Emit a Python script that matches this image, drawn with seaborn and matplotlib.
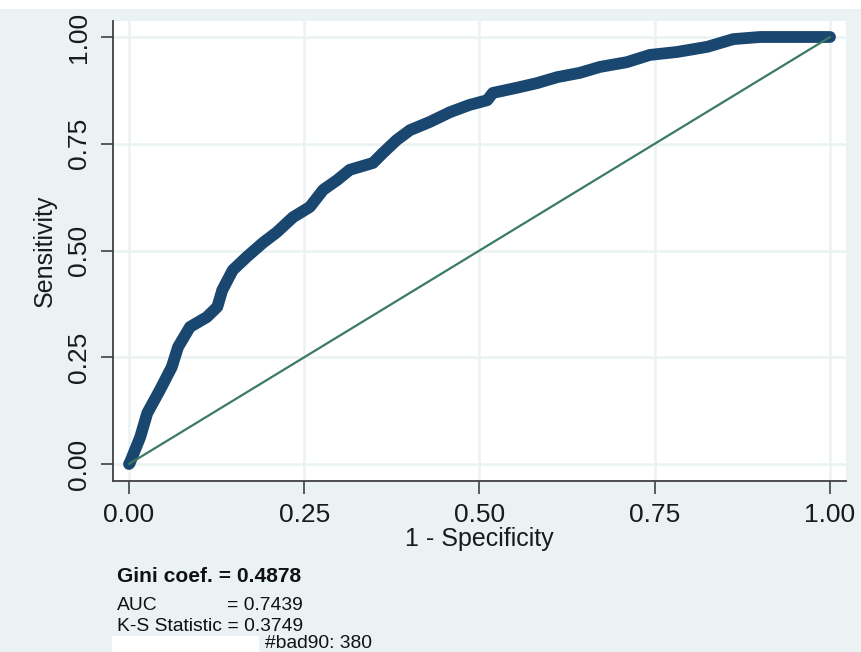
import matplotlib
matplotlib.use("Agg")
import matplotlib.pyplot as plt
from matplotlib.patches import Rectangle
import seaborn as sns
import pandas as pd

# ROC curve values
fpr = [0, 0.001, 0.016, 0.026, 0.044, 0.061, 0.070, 0.087, 0.111, 0.126, 0.133,
       0.148, 0.168, 0.191, 0.211, 0.234, 0.258, 0.277, 0.297, 0.315, 0.348,
       0.362, 0.382, 0.401, 0.429, 0.458, 0.486, 0.511, 0.519, 0.553, 0.582,
       0.611, 0.643, 0.672, 0.710, 0.743, 0.782, 0.825, 0.862, 0.900, 0.947, 1.0]
tpr = [0, 0.002, 0.063, 0.119, 0.173, 0.227, 0.274, 0.321, 0.344, 0.368, 0.407,
       0.454, 0.485, 0.518, 0.543, 0.578, 0.602, 0.642, 0.665, 0.689, 0.705,
       0.728, 0.759, 0.782, 0.801, 0.824, 0.841, 0.852, 0.869, 0.881, 0.892,
       0.906, 0.916, 0.930, 0.941, 0.958, 0.965, 0.977, 0.995, 1.0, 1.0, 1.0]
ref_x = [0.0, 1.0]
ref_y = [0.0, 1.0]
ticks = [0.0, 0.25, 0.5, 0.75, 1.0]
tick_labels = ["0.00", "0.25", "0.50", "0.75", "1.00"]

gini_text = "Gini coef. = 0.4878"
auc_label, auc_value = "AUC", "= 0.7439"
ks_text = "K-S Statistic = 0.3749"
bad_text = "#bad90: 380"

BG = "#EAF2F3"
NAVY = "#1A476F"
GREEN = "#3B7A63"

sns.set_theme(style="white")
plt.rcParams["font.family"] = ["Liberation Sans", "DejaVu Sans"]

fig = plt.figure(figsize=(8.62, 6.52), dpi=100, facecolor=BG)
W, H = 862, 652
ax = fig.add_axes([113 / W, 1 - 481 / H, (846 - 113) / W, (481 - 21) / H])
ax.set_facecolor("white")

fig.patches.append(Rectangle((0, 1 - 9 / H), 1, 9 / H, transform=fig.transFigure,
                             facecolor="white", edgecolor="none", zorder=-1))

roc = pd.DataFrame({"fpr": fpr, "tpr": tpr})
diag = pd.DataFrame({"x": ref_x, "y": ref_y})

sns.lineplot(data=roc, x="fpr", y="tpr", sort=False, estimator=None, ax=ax,
             color=NAVY, linewidth=8.5, solid_capstyle="round",
             solid_joinstyle="round", zorder=3)
sns.lineplot(data=diag, x="x", y="y", sort=False, estimator=None, ax=ax,
             color=GREEN, linewidth=1.6, zorder=4)

x0, x1 = (113 - 129) / 701, (846 - 129) / 701
y0, y1 = (464 - 481) / 427, (464 - 21) / 427
ax.set_xlim(x0, x1)
ax.set_ylim(y0, y1)

ax.set_xticks(ticks)
ax.set_xticklabels(tick_labels)
ax.set_yticks(ticks)
ax.set_yticklabels(tick_labels, rotation=90, va="center")

ax.grid(True, color=BG, linewidth=1.8)
ax.set_axisbelow(True)

for s in ["top", "right"]:
    ax.spines[s].set_visible(False)
for s in ["left", "bottom"]:
    ax.spines[s].set_color("#404040")
    ax.spines[s].set_linewidth(1.3)

ax.tick_params(axis="both", which="major", direction="out", length=9, width=1.2,
               color="#404040", labelsize=19, labelcolor="#1a1a1a",
               left=True, bottom=True)
ax.tick_params(axis="x", pad=7)
ax.tick_params(axis="y", pad=7)

ax.set_xlabel("1 - Specificity", fontsize=18, color="#1a1a1a", labelpad=0)
ax.set_ylabel("Sensitivity", fontsize=18, color="#1a1a1a", labelpad=7)

fig.text(117 / W, 1 - 582 / H, gini_text, fontsize=15.1, fontweight="bold",
         color="#111111", ha="left", va="baseline")
fig.text(117 / W, 1 - 610 / H, auc_label, fontsize=13.9, color="#111111",
         ha="left", va="baseline")
fig.text(227 / W, 1 - 610 / H, auc_value, fontsize=13.9, color="#111111",
         ha="left", va="baseline")
fig.text(117 / W, 1 - 631 / H, ks_text, fontsize=13.9, color="#111111",
         ha="left", va="baseline")
fig.patches.append(Rectangle((112 / W, 0), (259 - 112) / W, (652 - 636) / H,
                             transform=fig.transFigure, facecolor="white",
                             edgecolor="none"))
fig.text(265 / W, 1 - 648 / H, bad_text, fontsize=13.9, color="#111111",
         ha="left", va="baseline")

fig.savefig("out.png", dpi=100, facecolor=BG)
